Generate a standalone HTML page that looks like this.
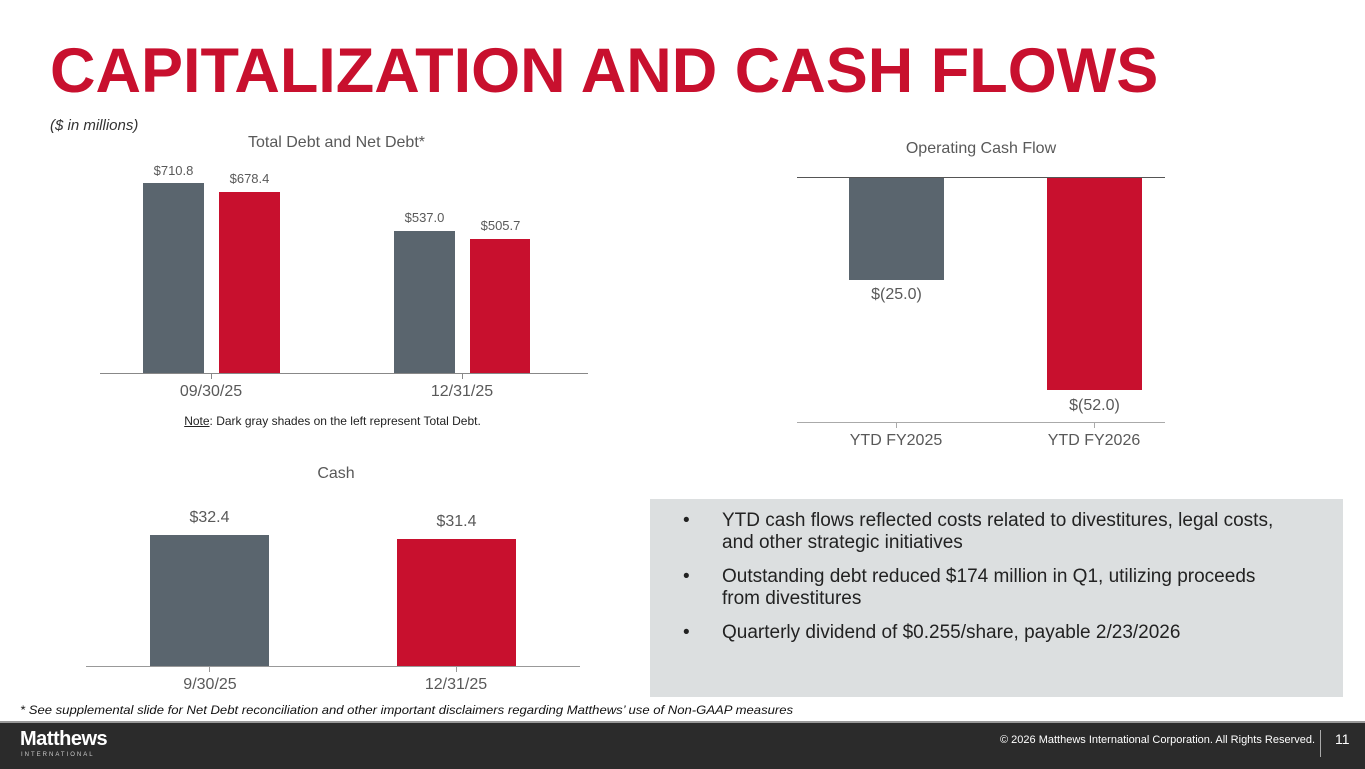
<!DOCTYPE html>
<html><head><meta charset="utf-8"><style>
body{margin:0;width:1365px;height:769px;position:relative;background:#fff;font-family:"Liberation Sans",Arial,sans-serif;overflow:hidden}
.a{position:absolute;white-space:nowrap}
.g{background:#5a656e}.r{background:#c8102e}
.t{color:#595959}
</style></head><body>
<div class="a" style="left:50px;top:35px;font-size:63px;font-weight:bold;color:#c8102e;letter-spacing:0px">CAPITALIZATION AND CASH FLOWS</div>
<div class="a" style="left:50px;top:117px;font-size:15px;font-style:italic;color:#333">($ in millions)</div>

<div class="a t" style="left:0;width:673px;text-align:center;top:134px;font-size:16px">Total Debt and Net Debt*</div>
<div class="a g" style="left:143px;top:183px;width:61px;height:191px"></div>
<div class="a r" style="left:219px;top:192px;width:61px;height:182px"></div>
<div class="a g" style="left:394px;top:231px;width:61px;height:143px"></div>
<div class="a r" style="left:470px;top:239px;width:60px;height:135px"></div>
<div class="a t" style="left:143px;width:61px;text-align:center;top:163px;font-size:13px">$710.8</div>
<div class="a t" style="left:219px;width:61px;text-align:center;top:171px;font-size:13px">$678.4</div>
<div class="a t" style="left:394px;width:61px;text-align:center;top:210px;font-size:13px">$537.0</div>
<div class="a t" style="left:470px;width:61px;text-align:center;top:218px;font-size:13px">$505.7</div>
<div class="a" style="left:100px;top:373px;width:488px;height:1px;background:#888"></div>
<div class="a" style="left:211px;top:374px;width:1px;height:5px;background:#888"></div>
<div class="a" style="left:462px;top:374px;width:1px;height:5px;background:#888"></div>
<div class="a t" style="left:151px;width:120px;text-align:center;top:383px;font-size:16px">09/30/25</div>
<div class="a t" style="left:402px;width:120px;text-align:center;top:383px;font-size:16px">12/31/25</div>
<div class="a" style="left:0;width:665px;text-align:center;top:414px;font-size:12px;color:#222"><u>Note</u>: Dark gray shades on the left represent Total Debt.</div>

<div class="a t" style="left:797px;width:368px;text-align:center;top:140px;font-size:16px">Operating Cash Flow</div>
<div class="a" style="left:797px;top:177px;width:368px;height:1px;background:#555"></div>
<div class="a g" style="left:849px;top:178px;width:95px;height:102px"></div>
<div class="a r" style="left:1047px;top:178px;width:95px;height:212px"></div>
<div class="a t" style="left:849px;width:95px;text-align:center;top:286px;font-size:16px">$(25.0)</div>
<div class="a t" style="left:1047px;width:95px;text-align:center;top:397px;font-size:16px">$(52.0)</div>
<div class="a" style="left:797px;top:422px;width:368px;height:1px;background:#aaa"></div>
<div class="a" style="left:896px;top:423px;width:1px;height:5px;background:#aaa"></div>
<div class="a" style="left:1094px;top:423px;width:1px;height:5px;background:#aaa"></div>
<div class="a t" style="left:826px;width:140px;text-align:center;top:432px;font-size:16px">YTD FY2025</div>
<div class="a t" style="left:1024px;width:140px;text-align:center;top:432px;font-size:16px">YTD FY2026</div>

<div class="a t" style="left:236px;width:200px;text-align:center;top:465px;font-size:16px">Cash</div>
<div class="a g" style="left:150px;top:535px;width:119px;height:132px"></div>
<div class="a r" style="left:397px;top:539px;width:119px;height:128px"></div>
<div class="a t" style="left:150px;width:119px;text-align:center;top:509px;font-size:16px">$32.4</div>
<div class="a t" style="left:397px;width:119px;text-align:center;top:513px;font-size:16px">$31.4</div>
<div class="a" style="left:86px;top:666px;width:494px;height:1px;background:#999"></div>
<div class="a" style="left:209px;top:667px;width:1px;height:5px;background:#999"></div>
<div class="a" style="left:456px;top:667px;width:1px;height:5px;background:#999"></div>
<div class="a t" style="left:150px;width:120px;text-align:center;top:676px;font-size:16px">9/30/25</div>
<div class="a t" style="left:396px;width:120px;text-align:center;top:676px;font-size:16px">12/31/25</div>

<div class="a" style="left:650px;top:499px;width:693px;height:198px;background:#dcdfe0"></div>
<div class="a" style="left:683px;top:510px;font-size:19px;line-height:22px;color:#222;white-space:normal;width:604px">
<div style="display:flex;margin-bottom:12px"><span style="width:39px;flex:none">•</span><span>YTD cash flows reflected costs related to divestitures, legal costs, and other strategic initiatives</span></div>
<div style="display:flex;margin-bottom:12px"><span style="width:39px;flex:none">•</span><span>Outstanding debt reduced $174 million in Q1, utilizing proceeds from divestitures</span></div>
<div style="display:flex"><span style="width:39px;flex:none">•</span><span>Quarterly dividend of $0.255/share, payable 2/23/2026</span></div>
</div>

<div class="a" style="left:20px;top:703px;font-size:12px;font-style:italic;color:#111;transform:scaleX(1.09);transform-origin:left">* See supplemental slide for Net Debt reconciliation and other important disclaimers regarding Matthews’ use of Non-GAAP measures</div>
<div class="a" style="left:0;top:721px;width:1365px;height:2px;background:#999"></div>
<div class="a" style="left:0;top:723px;width:1365px;height:46px;background:#2b2b2b"></div>
<div class="a" style="left:20px;top:728px;font-size:20px;font-weight:bold;color:#fff;letter-spacing:-0.5px">Matthews</div>
<div class="a" style="left:21px;top:752px;font-size:6px;color:#ccc;letter-spacing:2px">INTERNATIONAL</div>
<div class="a" style="left:1000px;width:303px;text-align:right;top:734px;font-size:11px;color:#fff">© 2026 Matthews International Corporation. All Rights Reserved.</div>
<div class="a" style="left:1320px;top:730px;width:1px;height:27px;background:#aaa"></div>
<div class="a" style="left:1335px;top:731px;font-size:14px;color:#fff">11</div>
</body></html>
